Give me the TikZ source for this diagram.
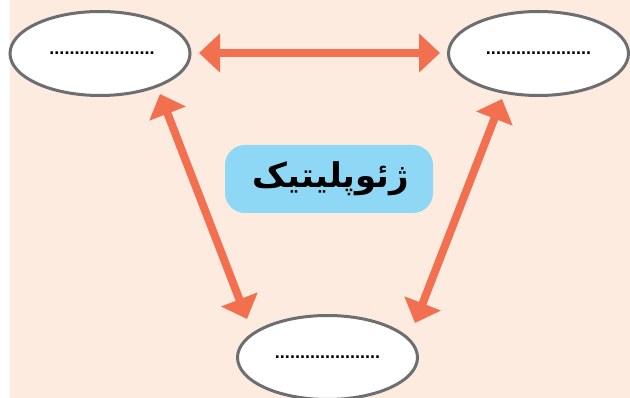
\documentclass[tikz,border=0pt]{standalone}
\usepackage{fontspec}
\usetikzlibrary{shapes.geometric,arrows.meta}
\TeXXeTstate=1
\newfontfamily\arabicfont[Script=Arabic]{DejaVu Sans}
\newfontfamily\dotfont{Liberation Sans}
\definecolor{bgpeach}{HTML}{FDEBE0}
\definecolor{arrowred}{HTML}{F26F50}
\definecolor{boxblue}{HTML}{8ED8F5}
\definecolor{ringgray}{HTML}{6D6E70}
\tikzset{
  oval/.style={ellipse, draw=ringgray, line width=3pt, fill=white,
    minimum width=180pt, minimum height=84pt, inner sep=0pt,
    font=\dotfont\bfseries\fontsize{18}{18}\selectfont},
  twoway/.style={draw=arrowred, line width=8pt,
    {Triangle[length=21pt,width=38pt]}-{Triangle[length=21pt,width=38pt]}},
  titlebox/.style={fill=boxblue, rounded corners=20pt, minimum width=208pt,
    minimum height=68pt, inner sep=0pt}
}
\begin{document}
\begin{tikzpicture}[x=1pt,y=-1pt]
\useasboundingbox (0,0) rectangle (630,398);
\fill[bgpeach] (10,0) rectangle (630,398);
\node[oval] (tl) at (100,53.5) {\hspace*{4pt}.....................};
\node[oval] (tr) at (538.5,53.5) {.....................};
\node[oval] (bot) at (327.5,357.5) {.....................};
\node[titlebox] (title) at (329,179) {\arabicfont\bfseries\fontsize{34}{34}\selectfont\hspace*{4pt}\beginR ژئوپلیتیک\endR};
\coordinate (h1) at (199,53);
\coordinate (h2) at (440,53);
\coordinate (l1) at (160,94);
\coordinate (l2) at (247,319);
\coordinate (r1) at (502,99);
\coordinate (r2) at (415,323);
\draw[twoway] (h1) -- (h2);
\draw[twoway] (l1) -- (l2);
\draw[twoway] (r1) -- (r2);
\end{tikzpicture}
\end{document}
